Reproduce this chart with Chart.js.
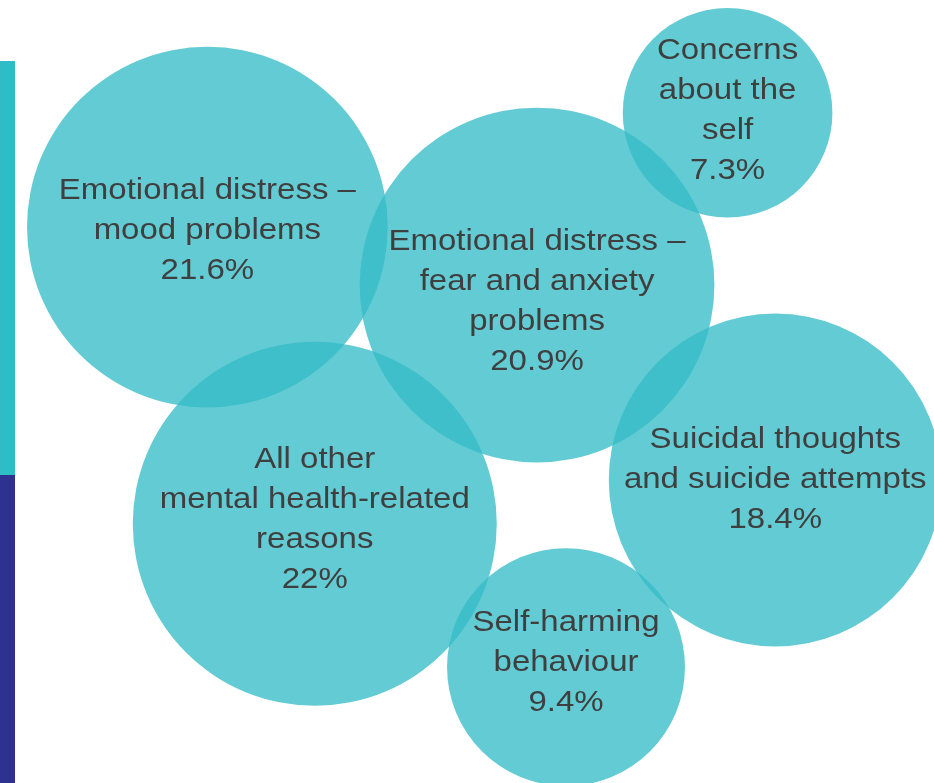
<!doctype html>
<html lang="en">
  <head>
    <meta charset="utf-8">
    <title>Mental health-related reasons</title>
    <style>
      * {
        margin: 0;
        padding: 0;
      }
      body {
        background: #fff;
        overflow: hidden;
      }
      .page {
        position: relative;
        width: 934px;
        height: 783px;
      }
      .sideBar {
        position: absolute;
        left: 0;
        width: 15px;
      }
      .sideBar.top {
        top: 61px;
        height: 414px;
        background: #2ebdc7;
      }
      .sideBar.bottom {
        top: 475px;
        height: 308px;
        background: #2e3192;
      }
      .chartBox {
        position: absolute;
        left: 0;
        top: 0;
        width: 934px;
        height: 783px;
      }
    </style>
  </head>
  <body>
    <div class="page">
      <div class="sideBar top"></div>
      <div class="sideBar bottom"></div>
      <div class="chartBox">
        <canvas id="myChart"></canvas>
      </div>
    </div>
    <script src="https://cdn.jsdelivr.net/npm/chart.js"></script>
    <script>
    // setup
    const labels = [
      ['Emotional distress –', 'mood problems'],
      ['Emotional distress –', 'fear and anxiety', 'problems'],
      ['Concerns', 'about the', 'self'],
      ['Suicidal thoughts', 'and suicide attempts'],
      ['All other', 'mental health-related', 'reasons'],
      ['Self-harming', 'behaviour']
    ];
    const shares = [21.6, 20.9, 7.3, 18.4, 22, 9.4];
    const posX = [22.2, 57.5, 77.9, 83.0, 33.7, 60.6];
    const posY = [71.0, 63.6, 85.6, 38.7, 33.1, 14.8];

    // bubble area follows the share
    const sizeFactor = 38.8;

    const points = shares.map((s, i) => ({
      x: posX[i],
      y: posY[i],
      r: sizeFactor * Math.sqrt(s)
    }));

    // label text a bit lower on the anxiety bubble
    const labelNudge = [4, 17, -2, 0, -4, -4];

    const bubbleLabels = {
      id: 'bubbleLabels',
      afterDatasetsDraw(chart) {
        const ctx = chart.ctx;
        const meta = chart.getDatasetMeta(0);
        const lineHeight = 40;
        const stretch = 1.1; // slightly wide grotesque look
        ctx.save();
        ctx.font = '30px "Liberation Sans", Arial, sans-serif';
        ctx.fillStyle = '#3f3f3f';
        ctx.textAlign = 'center';
        ctx.textBaseline = 'middle';
        meta.data.forEach((el, i) => {
          const lines = labels[i].concat(shares[i] + '%');
          const top = el.y + labelNudge[i] - (lines.length - 1) * lineHeight / 2;
          lines.forEach((line, j) => {
            ctx.save();
            ctx.translate(el.x, top + j * lineHeight);
            ctx.scale(stretch, 1);
            ctx.fillText(line, 0, 0);
            ctx.restore();
          });
        });
        ctx.restore();
      }
    };

    const data = {
      datasets: [{
        data: points,
        backgroundColor: 'rgba(54, 189, 198, 0.78)',
        hoverBackgroundColor: 'rgba(54, 189, 198, 0.78)',
        borderWidth: 0,
        hoverBorderWidth: 0,
        clip: false
      }]
    };

    // config
    const config = {
      type: 'bubble',
      data,
      options: {
        responsive: true,
        maintainAspectRatio: false,
        animation: false,
        events: [],
        layout: {
          padding: 0,
          autoPadding: false
        },
        scales: {
          x: { display: false, min: 0, max: 100 },
          y: { display: false, min: 0, max: 100 }
        },
        plugins: {
          legend: { display: false },
          tooltip: { enabled: false }
        }
      },
      plugins: [bubbleLabels]
    };

    const myChart = new Chart(
      document.getElementById('myChart'),
      config
    );
    </script>
  </body>
</html>
